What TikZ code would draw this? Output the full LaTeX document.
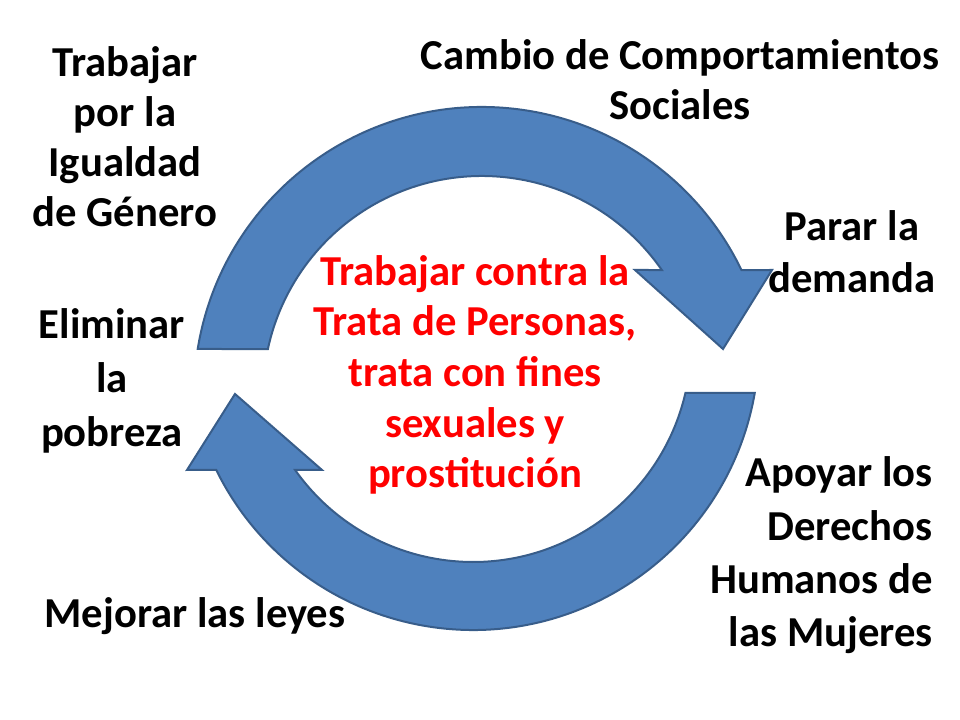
\documentclass[tikz,border=0pt]{standalone}
\usepackage{fontspec}
\setmainfont{Carlito}
\usepackage{tikz}
\usetikzlibrary{calc}
\definecolor{arrowblue}{RGB}{79,129,189}
\definecolor{arrowline}{RGB}{56,93,138}
\definecolor{tratared}{RGB}{255,0,0}

\begin{document}
\begin{tikzpicture}[x=0.75pt,y=0.75pt,
  cyclearrow/.style={fill=arrowblue, draw=arrowline, line width=1.5pt, line join=miter},
  slidetext/.style={font=\bfseries\fontsize{32}{#1}\selectfont, inner sep=0pt, align=center, anchor=base}]

\useasboundingbox (0,0) rectangle (960,720);

\coordinate (c1) at (482,325);
\coordinate (c2) at (473,376);

% upper arrow
\draw[cyclearrow] ($(c1)+(170.8:288)$) arc[start angle=170.8, end angle=25.7, radius=288]
  -- (772,450) -- (723,371) -- (635,450) -- ($(c1)+(34.8:219)$)
  arc[start angle=34.8, end angle=167.9, radius=219] -- cycle;

% lower arrow
\draw[cyclearrow] ($(c2)+(-9.86:286)$) arc[start angle=-9.86, end angle=-153.9, radius=286]
  -- (187,250) -- (235,326) -- (322,250) -- ($(c2)+(-144.7:218)$)
  arc[start angle=-144.7, end angle=-12.99, radius=218] -- cycle;

% labels (placed at the baseline of their last line)
\node[slidetext=37.5] (igualdad) at (125,493) {Trabajar\\por la\\Igualdad\\de Género};
\node[slidetext=37.5] (cambio) at (680,600) {Cambio de Comportamientos\\Sociales};
\node[slidetext=39] (demanda) at (852,427) {Parar la\\demanda};
\node[slidetext=40.5] (pobreza) at (112,273) {Eliminar\\la\\pobreza};
\node[slidetext=40, align=right, anchor=base east] (mujeres) at (933,73) {Apoyar los\\Derechos\\Humanos de\\las Mujeres};
\node[slidetext=38] (leyes) at (195,92) {Mejorar las leyes};
\node[slidetext=38, text=tratared] (trata) at (475,232) {Trabajar contra la\\Trata de Personas,\\trata con fines\\sexuales y\\prostitución};

\end{tikzpicture}
\end{document}
